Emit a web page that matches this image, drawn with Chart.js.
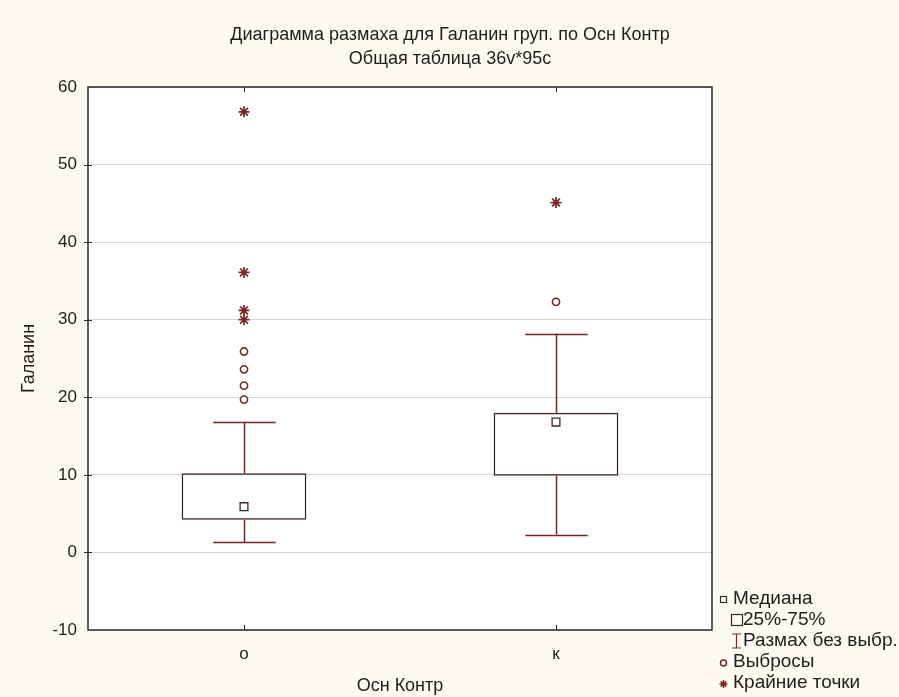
<!DOCTYPE html>
<html>
<head>
<meta charset="utf-8">
<script src="https://cdn.jsdelivr.net/npm/chart.js@4/dist/chart.umd.min.js"></script>
<style>
  html, body { margin: 0; padding: 0; background: #fdfaf0; }
  #wrap { width: 899px; height: 697px; }
</style>
</head>
<body>
<div id="wrap"><canvas id="c" width="899" height="697"></canvas></div>
<script>
// Groups and box-plot summaries of Галанин by Осн Контр
const groups = ['о', 'к'];
const q1 = [4.2, 9.9];
const q3 = [10.2, 18.0];
const medians = [5.9, 16.8];
const whiskerLow = [1.3, 2.3];
const whiskerHigh = [16.8, 28.2];
const outliersO = [19.7, 21.5, 23.6, 25.9];
const outliersK = [32.3];
const extremesO = [30.0, 31.2, 36.1, 56.8];
const extremesK = [45.1];
const yMin = -10, yMax = 60, yStep = 10;

const titleLines = ['Диаграмма размаха для Галанин груп. по Осн Контр', 'Общая таблица 36v*95c'];
const legendItems = ['Медиана', '25%-75%', 'Размах без выбр.', 'Выбросы', 'Крайние точки'];

const FONT = "'Liberation Sans', Arial, sans-serif";
const BOX_COLOR = '#3d2626';
const MARK_COLOR = '#7a2424';
const TEXT_COLOR = '#1e1e1e';

const pts = (g, vals) => vals.map(v => ({ x: g, y: v }));

// Whiskers, frame, titles and the key, drawn with the chart's own scales
const boxExtras = {
  id: 'boxExtras',
  beforeDraw(chart) {
    const { ctx, chartArea: a } = chart;
    ctx.save();
    ctx.fillStyle = '#ffffff';
    ctx.fillRect(a.left, a.top, a.right - a.left, a.bottom - a.top);
    ctx.restore();
  },
  beforeDatasetsDraw(chart) {
    const { ctx } = chart;
    const x = chart.scales.x, y = chart.scales.y;
    const catW = x.getPixelForValue(1) - x.getPixelForValue(0);
    const cap = catW * 0.1;
    ctx.save();
    ctx.strokeStyle = MARK_COLOR;
    ctx.lineWidth = 1.5;
    groups.forEach((g, i) => {
      const cx = Math.round(x.getPixelForValue(i)) + 0.5;
      const segs = [[whiskerLow[i], q1[i]], [q3[i], whiskerHigh[i]]];
      segs.forEach(([a, b]) => {
        ctx.beginPath();
        ctx.moveTo(cx, y.getPixelForValue(a));
        ctx.lineTo(cx, y.getPixelForValue(b));
        ctx.stroke();
      });
      [whiskerLow[i], whiskerHigh[i]].forEach(v => {
        const py = Math.round(y.getPixelForValue(v)) + 0.5;
        ctx.beginPath();
        ctx.moveTo(cx - cap, py);
        ctx.lineTo(cx + cap, py);
        ctx.stroke();
      });
    });
    ctx.restore();
  },
  afterDraw(chart) {
    const { ctx, chartArea: a } = chart;
    const x = chart.scales.x, y = chart.scales.y;
    ctx.save();
    // frame
    ctx.strokeStyle = '#2a2a2a';
    ctx.lineWidth = 1.5;
    ctx.strokeRect(a.left, a.top, a.right - a.left, a.bottom - a.top);
    // tick marks
    ctx.lineWidth = 1;
    groups.forEach((g, i) => {
      const px = Math.round(x.getPixelForValue(i)) + 0.5;
      ctx.beginPath();
      ctx.moveTo(px, a.top); ctx.lineTo(px, a.top + 5);
      ctx.moveTo(px, a.bottom); ctx.lineTo(px, a.bottom - 5);
      ctx.stroke();
    });
    for (let v = yMin + yStep; v < yMax; v += yStep) {
      const py = Math.round(y.getPixelForValue(v)) + 0.5;
      ctx.beginPath();
      ctx.moveTo(a.left - 4, py); ctx.lineTo(a.left + 4, py);
      ctx.stroke();
    }
    // titles
    ctx.fillStyle = TEXT_COLOR;
    ctx.textAlign = 'center';
    ctx.textBaseline = 'middle';
    ctx.font = '18px ' + FONT;
    ctx.fillText(titleLines[0], 450, 35);
    ctx.fillText(titleLines[1], 450, 59);
    // key
    ctx.textAlign = 'left';
    ctx.font = '19px ' + FONT;
    const rows = [599, 620, 641, 662, 683];
    const textX = [733, 743, 743, 733, 733];
    legendItems.forEach((t, i) => ctx.fillText(t, textX[i], rows[i]));
    ctx.strokeStyle = BOX_COLOR;
    ctx.lineWidth = 1.2;
    ctx.strokeRect(720.5, rows[0] - 2.5, 6, 6);
    ctx.strokeRect(731.5, rows[1] - 5.5, 11, 11);
    ctx.strokeStyle = MARK_COLOR;
    ctx.beginPath();
    ctx.moveTo(736.5, rows[2] - 7); ctx.lineTo(736.5, rows[2] + 7);
    ctx.moveTo(732, rows[2] - 7); ctx.lineTo(741, rows[2] - 7);
    ctx.moveTo(732, rows[2] + 7); ctx.lineTo(741, rows[2] + 7);
    ctx.stroke();
    ctx.lineWidth = 1.5;
    ctx.beginPath();
    ctx.arc(723.5, rows[3] + 1, 3, 0, Math.PI * 2);
    ctx.stroke();
    Chart.helpers.drawPoint(ctx, { pointStyle: 'star', radius: 4, borderWidth: 1.3 }, 723.5, rows[4] + 1);
    ctx.restore();
  }
};

new Chart(document.getElementById('c'), {
  type: 'bar',
  data: {
    labels: groups,
    datasets: [
      {
        type: 'scatter',
        label: 'Медиана',
        data: groups.map((g, i) => ({ x: g, y: medians[i] })),
        pointStyle: 'rect',
        pointRadius: 5.5,
        pointBackgroundColor: '#ffffff',
        pointBorderColor: BOX_COLOR,
        pointBorderWidth: 1.3,
        order: 0
      },
      {
        type: 'scatter',
        label: 'Выбросы',
        data: pts('о', outliersO).concat(pts('к', outliersK)),
        pointStyle: 'circle',
        pointRadius: 3.6,
        pointBackgroundColor: '#ffffff',
        pointBorderColor: MARK_COLOR,
        pointBorderWidth: 1.6,
        order: 0
      },
      {
        type: 'scatter',
        label: 'Крайние точки',
        data: pts('о', extremesO).concat(pts('к', extremesK)),
        pointStyle: 'star',
        pointRadius: 5.5,
        pointBorderColor: MARK_COLOR,
        pointBorderWidth: 1.7,
        order: 0
      },
      {
        type: 'bar',
        label: '25%-75%',
        data: groups.map((g, i) => [q1[i], q3[i]]),
        backgroundColor: 'rgba(255,255,255,0)',
        borderColor: BOX_COLOR,
        borderWidth: 1.5,
        borderSkipped: false,
        barPercentage: 0.4,
        categoryPercentage: 1,
        order: 1
      }
    ]
  },
  options: {
    responsive: false,
    animation: false,
    devicePixelRatio: 1,
    layout: { padding: { top: 87, right: 187, left: 0, bottom: 0 } },
    plugins: {
      legend: { display: false },
      title: { display: false },
      tooltip: { enabled: false }
    },
    scales: {
      x: {
        type: 'category',
        offset: true,
        grid: { display: false, drawTicks: false },
        border: { display: false },
        ticks: { color: TEXT_COLOR, font: { family: FONT, size: 17 }, padding: 14 },
        title: { display: true, text: 'Осн Контр', color: TEXT_COLOR, font: { family: FONT, size: 18 }, padding: { top: 0, bottom: 0 } },
        afterFit(s) { s.height = 67; }
      },
      y: {
        min: yMin,
        max: yMax,
        ticks: { stepSize: yStep, color: TEXT_COLOR, font: { family: FONT, size: 17 }, padding: 11 },
        grid: { color: '#d6d6d6', lineWidth: 1, drawTicks: false },
        border: { display: false },
        title: { display: true, text: 'Галанин', color: TEXT_COLOR, font: { family: FONT, size: 18 }, padding: { top: 18, bottom: 0 } },
        afterFit(s) { s.width = 88; }
      }
    }
  },
  plugins: [boxExtras]
});
</script>
</body>
</html>
